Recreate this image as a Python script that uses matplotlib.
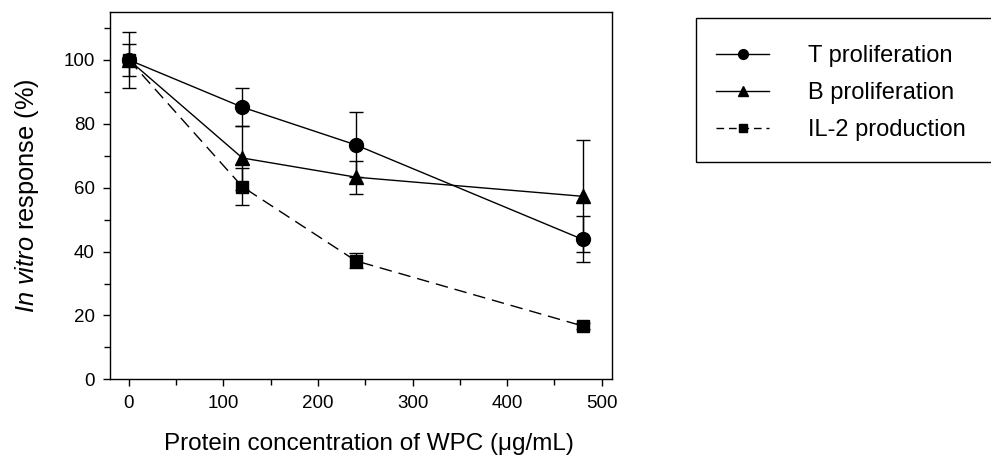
import numpy as np
import matplotlib
matplotlib.use("Agg")
import matplotlib.pyplot as plt
from matplotlib.patches import Rectangle
from matplotlib.lines import Line2D
from matplotlib.ticker import MultipleLocator

plt.rcParams['font.family'] = ['Liberation Sans', 'DejaVu Sans']
plt.rcParams['mathtext.fontset'] = 'custom'
plt.rcParams['mathtext.it'] = 'Liberation Sans:italic'
plt.rcParams['mathtext.rm'] = 'Liberation Sans'

# datos
conc = [0, 120, 240, 480]
t_prolif = [100, 85.2, 73.4, 43.8]
t_err = [8.7, 6.0, 10.2, 7.2]
b_prolif = [100, 69.3, 63.3, 57.3]
b_err = [5.0, 10.0, 5.2, 17.5]
il2 = [100, 60.3, 37.1, 16.7]
il2_err = [0.8, 5.8, 2.3, 1.0]

fig = plt.figure(figsize=(9.91, 4.73), dpi=100)
ax = fig.add_axes([0.111, 0.198, 0.5066, 0.7766])

kw = dict(color='black', ecolor='black', elinewidth=1, capsize=5, capthick=1, lw=1)
dash = (0, (9, 5))
ax.errorbar(conc, t_prolif, yerr=t_err, marker='o', ms=10, ls='-', **kw)
ax.errorbar(conc, b_prolif, yerr=b_err, marker='^', ms=10, ls='-', **kw)
ax.errorbar(conc, il2, yerr=il2_err, marker='s', ms=8, ls=dash, **kw)

ax.set_xlim(-20, 511)
ax.set_ylim(0, 115)
ax.xaxis.set_major_locator(MultipleLocator(100))
ax.xaxis.set_minor_locator(MultipleLocator(50))
ax.yaxis.set_major_locator(MultipleLocator(20))
ax.yaxis.set_minor_locator(MultipleLocator(10))
ax.tick_params(which='both', direction='out', top=False, right=False, labelsize=13.5, width=1)
ax.tick_params(which='major', length=5, pad=6)
ax.tick_params(which='minor', length=4)
for s in ax.spines.values():
    s.set_linewidth(1)

ax.set_ylabel(r'$\mathit{In\ vitro}$ response (%)', fontsize=18.3, labelpad=16)
ax.set_xlabel('Protein concentration of WPC (\u03bcg/mL)', fontsize=17.5)
ax.xaxis.set_label_coords(0.515, -0.145, transform=ax.transAxes)

# caja de leyenda fuera de los ejes
fig.patches.append(Rectangle((696/991, 1-162/473), 0.4, 144/473, transform=fig.transFigure,
                             fill=False, edgecolor='black', lw=1))
handles = [
    Line2D([], [], color='black', lw=1, marker='o', ms=7),
    Line2D([], [], color='black', lw=1, marker='^', ms=7.5),
    Line2D([], [], color='black', lw=1, marker='s', ms=5.5, ls=(0, (5.5, 3.5))),
]
labels = ['T proliferation', 'B proliferation', 'IL-2 production']
fig.legend(handles, labels, loc='upper left', bbox_to_anchor=(695/991, 1-24/473), frameon=False,
           fontsize=17, handlelength=2.25, handletextpad=1.65, labelspacing=0.64)

plt.savefig('out.png', dpi=100)
